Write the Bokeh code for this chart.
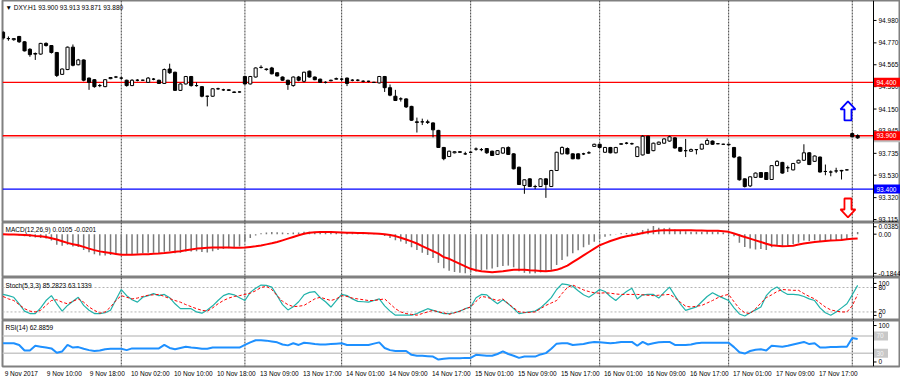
from bokeh.plotting import figure
from bokeh.models import Range1d, FixedTicker, Span, Label
from bokeh.layouts import column
from bokeh.embed import file_html
from bokeh.resources import INLINE
from bokeh.core.properties import value

# ---------------- data ----------------
symbol_title = "\u25bc DXY.H1  93.900 93.913 93.871 93.880"
macd_title = "MACD(12,26,9) 0.0105 -0.0201"
stoch_title = "Stoch(5,3,3) 85.2823 63.1339"
rsi_title = "RSI(14) 62.8859"

open_ = [94.870, 94.810, 94.800, 94.830, 94.780, 94.710, 94.670, 94.665, 94.765, 94.745,
         94.680, 94.475, 94.520, 94.730, 94.565, 94.610, 94.440, 94.425, 94.370, 94.360,
         94.435, 94.450, 94.440, 94.420, 94.370, 94.420, 94.420, 94.400, 94.430, 94.420,
         94.390, 94.525, 94.495, 94.325, 94.385, 94.455, 94.370, 94.360, 94.270, 94.270,
         94.340, 94.330, 94.330, 94.305, 94.310, 94.455, 94.385, 94.450, 94.540, 94.520,
         94.535, 94.490, 94.450, 94.420, 94.370, 94.450, 94.410, 94.505, 94.450, 94.430,
         94.400, 94.415, 94.430, 94.430, 94.440, 94.420, 94.420, 94.410, 94.410, 94.400,
         94.395, 94.455, 94.350, 94.270, 94.245, 94.245, 94.175, 94.030, 94.030, 94.030,
         94.020, 93.950, 93.790, 93.705, 93.740, 93.750, 93.730, 93.745, 93.775, 93.770,
         93.780, 93.755, 93.725, 93.737, 93.790, 93.730, 93.605, 93.434, 93.496, 93.424,
         93.424, 93.496, 93.424, 93.574, 93.730, 93.780, 93.730, 93.730, 93.730, 93.740,
         93.800, 93.820, 93.745, 93.790, 93.740, 93.820, 93.830, 93.825, 93.705, 93.720,
         93.895, 93.760, 93.820, 93.830, 93.850, 93.880, 93.790, 93.760, 93.755, 93.770,
         93.775, 93.820, 93.850, 93.825, 93.820, 93.815, 93.790, 93.700, 93.496, 93.430,
         93.510, 93.555, 93.555, 93.490, 93.620, 93.650, 93.600, 93.580, 93.645, 93.670,
         93.740, 93.660, 93.700, 93.565, 93.560, 93.570, 93.575, 93.580, 93.920, 93.900]
high = [94.880, 94.830, 94.815, 94.835, 94.785, 94.720, 94.680, 94.770, 94.775, 94.750,
        94.685, 94.530, 94.735, 94.755, 94.620, 94.615, 94.445, 94.430, 94.385, 94.430,
        94.450, 94.460, 94.450, 94.425, 94.430, 94.430, 94.425, 94.450, 94.440, 94.425,
        94.530, 94.575, 94.500, 94.390, 94.460, 94.460, 94.400, 94.365, 94.275, 94.345,
        94.350, 94.340, 94.335, 94.315, 94.315, 94.460, 94.460, 94.540, 94.560, 94.530,
        94.545, 94.495, 94.455, 94.425, 94.455, 94.460, 94.500, 94.510, 94.455, 94.435,
        94.410, 94.425, 94.445, 94.440, 94.445, 94.430, 94.430, 94.420, 94.415, 94.405,
        94.460, 94.460, 94.380, 94.330, 94.260, 94.250, 94.180, 94.070, 94.060, 94.050,
        94.025, 93.955, 93.795, 93.760, 93.755, 93.755, 93.750, 93.750, 93.790, 93.785,
        93.785, 93.760, 93.765, 93.790, 93.800, 93.735, 93.610, 93.490, 93.500, 93.440,
        93.500, 93.500, 93.580, 93.750, 93.800, 93.790, 93.735, 93.735, 93.740, 93.755,
        93.825, 93.825, 93.795, 93.795, 93.795, 93.830, 93.840, 93.835, 93.800, 93.905,
        93.900, 93.835, 93.845, 93.875, 93.900, 93.885, 93.795, 93.870, 93.780, 93.775,
        93.825, 93.875, 93.855, 93.830, 93.825, 93.825, 93.795, 93.705, 93.500, 93.520,
        93.555, 93.560, 93.560, 93.625, 93.670, 93.655, 93.620, 93.645, 93.675, 93.820,
        93.745, 93.715, 93.705, 93.630, 93.575, 93.600, 93.580, 93.585, 93.930, 93.913]
low = [94.800, 94.790, 94.790, 94.770, 94.690, 94.640, 94.610, 94.660, 94.735, 94.670,
       94.450, 94.470, 94.515, 94.550, 94.560, 94.410, 94.330, 94.350, 94.355, 94.355,
       94.430, 94.440, 94.430, 94.360, 94.365, 94.410, 94.415, 94.395, 94.420, 94.385,
       94.385, 94.480, 94.320, 94.320, 94.380, 94.360, 94.360, 94.260, 94.175, 94.265,
       94.330, 94.320, 94.320, 94.300, 94.305, 94.380, 94.380, 94.445, 94.530, 94.510,
       94.475, 94.455, 94.415, 94.330, 94.360, 94.410, 94.400, 94.445, 94.420, 94.400,
       94.390, 94.410, 94.425, 94.410, 94.365, 94.410, 94.410, 94.400, 94.400, 94.395,
       94.390, 94.310, 94.270, 94.225, 94.220, 94.160, 94.040, 93.930, 94.000, 94.010,
       93.885, 93.785, 93.670, 93.700, 93.735, 93.740, 93.720, 93.740, 93.760, 93.755,
       93.730, 93.710, 93.720, 93.730, 93.720, 93.585, 93.440, 93.356, 93.420, 93.400,
       93.420, 93.318, 93.420, 93.570, 93.725, 93.725, 93.680, 93.680, 93.720, 93.730,
       93.795, 93.785, 93.740, 93.735, 93.735, 93.815, 93.820, 93.815, 93.700, 93.715,
       93.730, 93.755, 93.815, 93.825, 93.845, 93.780, 93.750, 93.700, 93.750, 93.725,
       93.770, 93.815, 93.815, 93.820, 93.815, 93.810, 93.690, 93.480, 93.415, 93.420,
       93.505, 93.505, 93.485, 93.485, 93.615, 93.545, 93.560, 93.575, 93.640, 93.665,
       93.625, 93.655, 93.555, 93.530, 93.520, 93.550, 93.490, 93.575, 93.885, 93.871]
close = [94.815, 94.810, 94.810, 94.780, 94.695, 94.660, 94.665, 94.765, 94.745, 94.680,
         94.465, 94.525, 94.730, 94.560, 94.610, 94.420, 94.400, 94.360, 94.370, 94.425,
         94.445, 94.450, 94.440, 94.370, 94.420, 94.420, 94.420, 94.440, 94.430, 94.390,
         94.520, 94.490, 94.325, 94.385, 94.455, 94.370, 94.370, 94.270, 94.270, 94.340,
         94.340, 94.330, 94.325, 94.310, 94.310, 94.385, 94.455, 94.535, 94.540, 94.525,
         94.480, 94.460, 94.420, 94.380, 94.450, 94.420, 94.495, 94.450, 94.425, 94.400,
         94.400, 94.420, 94.435, 94.430, 94.390, 94.420, 94.420, 94.410, 94.410, 94.400,
         94.455, 94.350, 94.280, 94.230, 94.245, 94.170, 94.045, 94.025, 94.030, 94.025,
         93.955, 93.790, 93.685, 93.755, 93.750, 93.745, 93.730, 93.745, 93.775, 93.770,
         93.740, 93.715, 93.760, 93.787, 93.725, 93.590, 93.443, 93.487, 93.424, 93.424,
         93.496, 93.443, 93.574, 93.745, 93.790, 93.730, 93.684, 93.684, 93.730, 93.740,
         93.820, 93.790, 93.790, 93.740, 93.790, 93.825, 93.830, 93.825, 93.795, 93.895,
         93.735, 93.830, 93.840, 93.870, 93.890, 93.785, 93.755, 93.760, 93.770, 93.770,
         93.820, 93.855, 93.820, 93.825, 93.820, 93.820, 93.700, 93.487, 93.424, 93.515,
         93.550, 93.510, 93.490, 93.620, 93.660, 93.550, 93.600, 93.640, 93.670, 93.740,
         93.630, 93.710, 93.560, 93.565, 93.560, 93.570, 93.570, 93.580, 93.890, 93.880]

macd_main = [-0.002, -0.003, -0.004, -0.006, -0.010, -0.013, -0.016, -0.018, -0.020, -0.030,
             -0.050, -0.055, -0.050, -0.058, -0.060, -0.074, -0.085, -0.095, -0.100, -0.100,
             -0.098, -0.095, -0.093, -0.096, -0.094, -0.092, -0.090, -0.088, -0.087, -0.089,
             -0.083, -0.080, -0.090, -0.088, -0.082, -0.082, -0.080, -0.084, -0.086, -0.080,
             -0.075, -0.070, -0.066, -0.062, -0.058, -0.032, -0.018, -0.006, 0.004, 0.008,
             0.010, 0.009, 0.008, 0.006, 0.008, 0.008, 0.011, 0.011, 0.010, 0.008,
             0.007, 0.007, 0.007, 0.007, 0.005, 0.005, 0.004, 0.003, 0.002, 0.001,
             0.003, -0.008, -0.018, -0.028, -0.035, -0.045, -0.062, -0.075, -0.088, -0.098,
             -0.112, -0.135, -0.160, -0.172, -0.178, -0.182, -0.184, -0.180, -0.176, -0.170,
             -0.166, -0.162, -0.155, -0.150, -0.148, -0.156, -0.175, -0.182, -0.185, -0.184,
             -0.180, -0.178, -0.168, -0.145, -0.122, -0.105, -0.090, -0.076, -0.062, -0.050,
             -0.036, -0.022, -0.012, -0.006, 0.001, 0.004, 0.006, 0.007, 0.008, 0.020,
             0.025, 0.0385, 0.030, 0.028, 0.030, 0.022, 0.016, 0.014, 0.012, 0.011,
             0.012, 0.014, 0.012, 0.011, 0.008, 0.004, -0.010, -0.040, -0.060, -0.068,
             -0.072, -0.070, -0.074, -0.062, -0.055, -0.058, -0.055, -0.048, -0.040, -0.030,
             -0.032, -0.028, -0.033, -0.033, -0.030, -0.028, -0.028, -0.025, 0.006, 0.0105]
macd_signal = [0.000, -0.001, -0.002, -0.003, -0.004, -0.005, -0.008, -0.010, -0.013, -0.019,
               -0.025, -0.033, -0.041, -0.047, -0.052, -0.060, -0.068, -0.075, -0.081, -0.085,
               -0.089, -0.093, -0.097, -0.097, -0.097, -0.096, -0.095, -0.094, -0.092, -0.091,
               -0.089, -0.086, -0.083, -0.080, -0.076, -0.072, -0.068, -0.066, -0.064, -0.063,
               -0.063, -0.063, -0.063, -0.064, -0.064, -0.063, -0.060, -0.057, -0.053, -0.048,
               -0.043, -0.037, -0.029, -0.021, -0.013, -0.005, 0.002, 0.007, 0.009, 0.010,
               0.010, 0.010, 0.009, 0.008, 0.007, 0.007, 0.006, 0.005, 0.004, 0.003,
               0.002, 0.000, -0.004, -0.009, -0.017, -0.025, -0.034, -0.044, -0.056, -0.068,
               -0.080, -0.092, -0.108, -0.116, -0.128, -0.140, -0.152, -0.163, -0.170, -0.175,
               -0.177, -0.179, -0.177, -0.175, -0.171, -0.168, -0.168, -0.168, -0.170, -0.171,
               -0.173, -0.175, -0.172, -0.168, -0.159, -0.148, -0.132, -0.116, -0.100, -0.084,
               -0.068, -0.052, -0.042, -0.032, -0.024, -0.016, -0.010, -0.005, 0.000, 0.006,
               0.010, 0.014, 0.017, 0.019, 0.019, 0.019, 0.019, 0.019, 0.018, 0.017,
               0.017, 0.016, 0.016, 0.016, 0.014, 0.011, 0.003, -0.005, -0.013, -0.021,
               -0.029, -0.037, -0.045, -0.052, -0.055, -0.057, -0.056, -0.054, -0.049, -0.044,
               -0.040, -0.037, -0.034, -0.032, -0.030, -0.029, -0.027, -0.024, -0.022, -0.0201]

stoch_k = [63, 60, 56, 40, 22, 16, 16, 30, 48, 60, 40, 22, 36, 46, 56, 36, 24, 16, 16, 18,
           24, 50, 75, 60, 50, 44, 56, 60, 65, 60, 63, 55, 40, 28, 28, 28, 20, 17, 25, 35,
           48, 60, 65, 62, 55, 48, 68, 78, 86, 85, 81, 60, 38, 25, 33, 45, 62, 68, 70, 55,
           45, 32, 48, 63, 60, 52, 46, 45, 44, 48, 52, 35, 22, 12, 12, 12, 12, 16, 22, 28,
           24, 20, 16, 16, 18, 22, 28, 32, 55, 63, 62, 50, 40, 50, 40, 28, 16, 18, 20, 22,
           30, 42, 55, 75, 89, 87, 83, 72, 62, 56, 65, 75, 70, 58, 48, 60, 70, 78, 52, 62,
           63, 63, 54, 68, 81, 60, 40, 24, 28, 32, 45, 58, 67, 60, 54, 48, 30, 15, 10, 18,
           25, 32, 60, 74, 81, 70, 63, 63, 62, 58, 52, 48, 30, 18, 12, 20, 30, 40, 62, 85.28]
stoch_d = [58, 52, 48, 38, 28, 22, 20, 24, 36, 48, 50, 44, 40, 46, 52, 44, 32, 24, 17, 20,
           32, 48, 60, 56, 52, 54, 58, 61, 62, 63, 58, 53, 48, 44, 38, 33, 28, 24, 22, 30,
           40, 48, 54, 58, 60, 63, 66, 72, 80, 83, 75, 60, 46, 38, 33, 34, 36, 44, 52, 56,
           52, 48, 52, 60, 58, 54, 52, 50, 48, 48, 50, 52, 40, 28, 20, 16, 14, 12, 16, 20,
           24, 20, 18, 14, 18, 22, 28, 32, 46, 58, 56, 52, 48, 52, 40, 30, 20, 19, 19, 20,
           28, 36, 42, 48, 65, 80, 86, 80, 74, 70, 67, 66, 67, 66, 64, 63, 63, 63, 63, 62,
           61, 60, 61, 62, 63, 55, 44, 34, 32, 34, 36, 42, 48, 55, 60, 63, 45, 28, 18, 16,
           28, 42, 55, 62, 70, 75, 74, 73, 73, 65, 58, 52, 42, 32, 25, 22, 20, 20, 35, 63.13]

rsi = [53, 53, 53, 49, 36, 36, 47, 45, 43, 41, 31, 34, 49, 43, 44, 40, 37, 35, 36, 39,
       40, 40, 40, 37, 41, 41, 41, 41, 41, 41, 49, 42, 39, 42, 45, 43, 42, 40, 40, 43,
       43, 43, 43, 43, 43, 49, 55, 60, 60, 59, 57, 55, 50, 48, 53, 49, 54, 53, 51, 50,
       50, 51, 52, 53, 49, 49, 49, 49, 49, 52, 55, 42, 37, 35, 35, 35, 26, 24, 24, 23,
       22, 15, 17, 18, 18, 18, 19, 19, 26, 25, 24, 24, 28, 34, 28, 24, 19, 22, 22, 22,
       27, 30, 40, 52, 53, 53, 49, 50, 51, 54, 56, 55, 54, 53, 54, 56, 56, 56, 47, 56,
       50, 53, 55, 56, 56, 49, 49, 49, 50, 53, 54, 54, 54, 54, 54, 54, 44, 32, 29, 35,
       38, 39, 36, 47, 46, 45, 47, 50, 53, 56, 51, 53, 43, 43, 44, 44, 45, 45, 65, 62.89]

price_ticks = [93.115, 93.320, 93.530, 93.735, 93.945, 94.150, 94.360, 94.565, 94.770, 94.980]
price_tick_texts = ["93.115", "93.320", "93.530", "93.735", "93.945", "94.150", "94.360",
                    "94.565", "94.770", "94.980"]
level_prices = [94.400, 93.900, 93.400]
level_texts = ["94.400", "93.900", "93.400"]
level_colors = ["#ff0000", "#ff0000", "#0000ff"]
bid_price = 93.880
bid_text = "93.880"
macd_ticks = [-0.1844, 0.0, 0.035]
macd_tick_texts = ["-0.1844", "0.00", "0.0385"]
stoch_levels = [20, 80]
stoch_ticks = [11.5, 20, 80, 90]
stoch_tick_texts = ["0", "20", "80", "100"]
rsi_levels = [30, 70]
rsi_level_texts = ["30", "70"]
rsi_ticks = [9.5, 94]
rsi_tick_texts = ["0", "100"]
day_separators = [22, 45, 63, 87, 111, 135, 158]
time_tick_idx = [0, 8, 16, 24, 32, 40, 48, 56, 64, 72, 80, 88, 96, 104, 112, 120, 128, 136, 144, 152]
time_tick_labels = ["9 Nov 2017", "9 Nov 10:00", "9 Nov 18:00", "10 Nov 02:00", "10 Nov 10:00",
                    "10 Nov 18:00", "13 Nov 09:00", "13 Nov 17:00", "14 Nov 01:00", "14 Nov 09:00",
                    "14 Nov 17:00", "15 Nov 01:00", "15 Nov 09:00", "15 Nov 17:00", "16 Nov 01:00",
                    "16 Nov 09:00", "16 Nov 17:00", "17 Nov 01:00", "17 Nov 09:00", "17 Nov 17:00"]
arrow_idx = [157.2, 157.2]
arrow_price = [94.132, 93.223]
arrow_up = [True, False]
arrow_color = ["#0000ff", "#ff0000"]

# ---------------- layout constants ----------------
FONT = "Liberation Sans"
FS = "6.5px"
CHART_W = 871          # px of the price area (left of the scale)
SCALE_W = 27           # px of the scale column
X0, XAX = -0.1, 161.95  # bar range shown in the price area
PPB = CHART_W / (XAX - X0)
X1 = X0 + (CHART_W + SCALE_W) / PPB
idx = list(range(len(close)))
xr = Range1d(X0, X1)


def panel(frame_h, y0, y1, with_x=False):
    p = figure(frame_width=CHART_W + SCALE_W, frame_height=frame_h, x_range=xr,
               y_range=Range1d(y0, y1), output_backend="svg", toolbar_location=None,
               y_axis_location=None, x_axis_location="below" if with_x else None,
               min_border_left=2, min_border_right=0, min_border_top=0,
               min_border_bottom=14 if with_x else 0)
    p.grid.visible = False
    p.outline_line_color = "#808080"
    p.outline_line_width = 2
    p.background_fill_color = "white"
    p.border_fill_color = "white"
    for s in day_separators:
        p.add_layout(Span(location=s, dimension="height", line_color="#404040",
                          line_dash="2 1", line_width=1, level="underlay"))
    p.add_layout(Span(location=XAX, dimension="height", line_color="black", line_width=1))
    return p


def scale(p, ticks, texts):
    n = len(ticks)
    p.segment(x0=[XAX] * n, y0=ticks, x1=[XAX + 3 / PPB] * n, y1=ticks,
              line_color="black", line_width=1)
    p.text(x=[XAX] * n, y=ticks, text=texts, x_offset=5, text_align="left",
           text_baseline="middle", text_font=value(FONT), text_font_size=value(FS),
           text_color="black")


def hline(p, y, color, width=1.0, dash="solid"):
    p.segment(x0=[X0], y0=[y], x1=[XAX], y1=[y], line_color=color, line_width=width,
              line_dash=dash)


def box(p, y, text, bg, fg="white", w=26):
    p.rect(x=[XAX + (w / 2 + 0.5) / PPB], y=[y], width=w, height=9, width_units="screen",
           height_units="screen", fill_color=bg, line_color=None)
    p.text(x=[XAX], y=[y], text=[text], x_offset=3, text_align="left",
           text_baseline="middle", text_font=value(FONT), text_font_size=value(FS),
           text_color=fg)


def corner_label(p, text, y1, dy):
    p.add_layout(Label(x=X0, y=y1, x_offset=3, y_offset=dy, text=text,
                       text_font=FONT, text_font_size=FS, text_color="black",
                       text_align="left", text_baseline="top"))


# ---------------- main price panel ----------------
MAIN_H = 222
PY0, PY1 = 93.087, 95.167
main = panel(MAIN_H, PY0, PY1)
hline(main, bid_price, "#c8c8c8", 1)
for lp, lc in zip(level_prices, level_colors):
    hline(main, lp, lc, 1.3)

top = [max(o, c) for o, c in zip(open_, close)]
bot = [min(o, c) for o, c in zip(open_, close)]
fill = ["white" if c >= o else "black" for o, c in zip(open_, close)]
main.segment(x0=idx, y0=low, x1=idx, y1=high, line_color="black", line_width=1)
main.vbar(x=idx, width=0.58, top=top, bottom=bot, fill_color=fill,
          line_color="black", line_width=1)

# hollow block arrows (shape in screen pixels, anchored on the signal points)
PPU = MAIN_H / (PY1 - PY0)
shape_x = [0, 7.5, 3.5, 3.5, -3.5, -3.5, -7.5]
shape_y = [9.5, 1.5, 1.5, -9.5, -9.5, 1.5, 1.5]
axs, ays = [], []
for ax_i, ay_p, up in zip(arrow_idx, arrow_price, arrow_up):
    sgn = 1 if up else -1
    axs.append([ax_i + sx / PPB for sx in shape_x])
    ays.append([ay_p + sgn * sy / PPU for sy in shape_y])
main.patches(xs=axs, ys=ays, fill_color="white", line_color=arrow_color, line_width=1.8)

scale(main, price_ticks, price_tick_texts)
box(main, bid_price, bid_text, "#c0c0c0")
for lp, lt, lc in zip(level_prices, level_texts, level_colors):
    box(main, lp, lt, lc)
corner_label(main, symbol_title, PY1, -3)

# ---------------- MACD panel ----------------
MY0, MY1 = -0.204, 0.055
mp = panel(55, MY0, MY1)
mp.segment(x0=idx, y0=[0.0] * len(idx), x1=idx, y1=macd_main,
           line_color="#7a7a7a", line_width=1.5)
mp.line(idx, macd_signal, line_color="#ff0000", line_width=2)
scale(mp, macd_ticks, macd_tick_texts)
corner_label(mp, macd_title, MY1, -3)

# ---------------- Stochastic panel ----------------
SY0, SY1 = -1, 104.5
sp = panel(43, SY0, SY1)
for lv in stoch_levels:
    hline(sp, lv, "#b4b4b4", 1, "2 2")
sp.line(idx, stoch_k, line_color="#20b2aa", line_width=1.2)
sp.line(idx, stoch_d, line_color="#ff0000", line_width=1, line_dash="3 2")
scale(sp, stoch_ticks, stoch_tick_texts)
corner_label(sp, stoch_title, SY1, -4)

# ---------------- RSI panel ----------------
RY0, RY1 = -1, 105.7
rp = panel(46, RY0, RY1, with_x=True)
for lv in rsi_levels:
    hline(rp, lv, "#c8c8c8", 1.5)
rp.line(idx, rsi, line_color="#1e90ff", line_width=2)
scale(rp, rsi_ticks, rsi_tick_texts)
for lv, lt in zip(rsi_levels, rsi_level_texts):
    box(rp, lv, lt, "#c8c8c8", "#f4f4f4", 14)
corner_label(rp, rsi_title, RY1, -3)

xa = rp.xaxis[0]
shift = 3.4
xticks = [i + shift for i in time_tick_idx]
xa.ticker = FixedTicker(ticks=xticks)
xa.major_label_overrides = {t: s for t, s in zip(xticks, time_tick_labels)}
xa.major_tick_out = 0
xa.major_tick_in = 0
xa.minor_tick_out = 0
xa.minor_tick_in = 0
xa.axis_line_color = None
xa.major_label_standoff = 3
xa.major_label_text_font = FONT
xa.major_label_text_font_size = FS
xa.major_label_text_color = "black"

layout = column(main, mp, sp, rp, spacing=0)
open("out.html", "w").write(file_html(layout, INLINE))
